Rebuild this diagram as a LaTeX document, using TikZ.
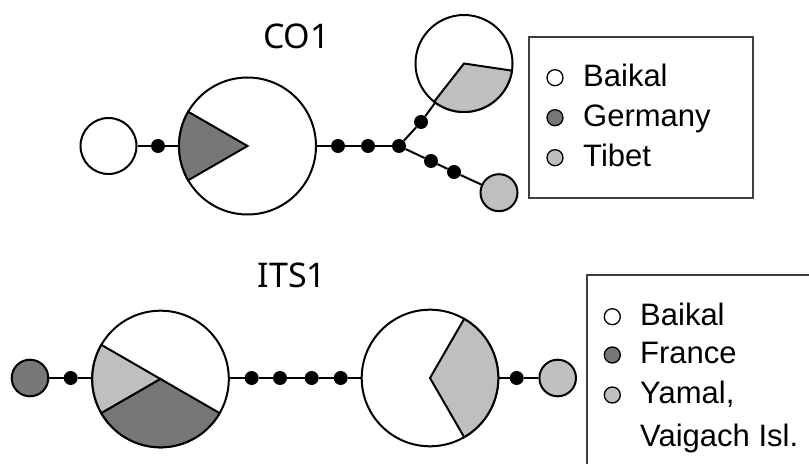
\documentclass[tikz,border=0pt]{standalone}
\usepackage{fontspec}
\setmainfont{Liberation Sans}
\newfontfamily\titlefont{Noto Sans}
\definecolor{dk}{HTML}{777777}
\definecolor{lt}{HTML}{BFBFBF}
\definecolor{framec}{HTML}{404040}
\begin{document}
\begin{tikzpicture}[x=1pt,y=1pt,
  pie/.style={circle,draw,line width=2pt,fill=white,inner sep=0pt,minimum size=#1},
  hap/.style={circle,fill=black,inner sep=0pt,minimum size=14pt},
  link/.style={line width=2pt},
  sector/.style={draw,line width=2pt,fill=#1},
  leg/.style={circle,draw,line width=1.3pt,inner sep=0pt,minimum size=16pt},
  lab/.style={anchor=base west,inner sep=0pt,font=\fontsize{31}{37}\selectfont},
  ttl/.style={font=\titlefont\fontsize{34}{40}\selectfont},
  frame/.style={draw=framec,line width=2pt}
]
\useasboundingbox (0,0) rectangle (809,464);

% ---------------- CO1 ----------------
\node[ttl] (tCO) at (296.5,428) {CO1};

\node[pie=56pt] (cA) at (108.5,318) {};
\node[hap] (d1) at (158,318) {};
\node[pie=137pt] (pA) at (247.5,318) {};
\node[hap] (d2) at (338,318) {};
\node[hap] (d3) at (368,318) {};
\node[hap] (J) at (399,318) {};
\node[hap] (dU) at (421,342) {};
\node[pie=97pt] (pB) at (464,400.5) {};
\node[hap] (dL1) at (431,303) {};
\node[hap] (dL2) at (454,292) {};
\node[pie=37pt,fill=lt] (cT) at (499,271.3) {};

\draw[link] (cA) -- (d1) -- (pA);
\draw[link] (pA) -- (d2) -- (d3) -- (J);
\draw[link] (J) -- (dU) -- (pB);
\draw[link] (J) -- (dL1) -- (dL2) -- (cT);

\draw[sector=dk] (pA.center) -- ++(150:68.5) arc[start angle=150,end angle=210,radius=68.5] -- cycle;
\draw[sector=lt] (pB.center) -- ++(-128:48.5) arc[start angle=-128,end angle=-8.5,radius=48.5] -- cycle;

% legend CO1
\draw[frame] (529,266) rectangle (753,427.3);
\node[leg,fill=white] (l1a) at (555,386.3) {};
\node[leg,fill=dk] (l1b) at (555,346.3) {};
\node[leg,fill=lt] (l1c) at (555,306.3) {};
\node[lab] (t1a) at (583,377.3) {Baikal};
\node[lab] (t1b) at (583,337.3) {Germany};
\node[lab] (t1c) at (583,297.3) {Tibet};

% ---------------- ITS1 ----------------
\node[ttl] (tITS) at (292,189) {ITS1};

\node[pie=36.6pt,fill=dk] (cF) at (30,86) {};
\node[hap] (e1) at (70.7,86) {};
\node[pie=136.6pt] (pC) at (160.5,85) {};
\node[hap] (e2) at (251.7,86) {};
\node[hap] (e3) at (280,86) {};
\node[hap] (e4) at (311.7,86) {};
\node[hap] (e5) at (340.7,86) {};
\node[pie=136.6pt] (pD) at (430,86) {};
\node[hap] (e6) at (516.7,86) {};
\node[pie=36.6pt,fill=lt] (cY) at (557.7,86) {};

\draw[link] (cF) -- (e1) -- (e1 -| pC.west);
\draw[link] (e2 -| pC.east) -- (e2) -- (e3) -- (e4) -- (e5) -- (pD);
\draw[link] (pD) -- (e6) -- (cY);

\draw[sector=lt] (pC.center) -- ++(150:68.3) arc[start angle=150,end angle=210,radius=68.3] -- cycle;
\draw[sector=dk] (pC.center) -- ++(210:68.3) arc[start angle=210,end angle=330,radius=68.3] -- cycle;
\draw[sector=lt] (pD.center) -- ++(-60:68.3) arc[start angle=-60,end angle=60,radius=68.3] -- cycle;

% legend ITS1
\draw[frame] (809,189) -- (587,189) -- (587,0);
\node[leg,fill=white] (l2a) at (612.3,147.3) {};
\node[leg,fill=dk] (l2b) at (612.3,109) {};
\node[leg,fill=lt] (l2c) at (612.3,69) {};
\node[lab] (t2a) at (640,139) {Baikal};
\node[lab] (t2b) at (640,100.7) {France};
\node[lab] (t2c) at (640,60.7) {Yamal,};
\node[lab] (t2d) at (640,17.3) {Vaigach Isl.};
\end{tikzpicture}
\end{document}
